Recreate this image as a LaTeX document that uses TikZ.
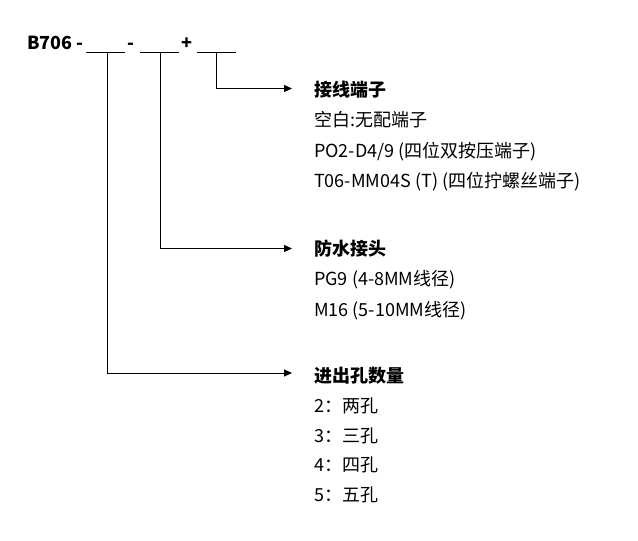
\documentclass[tikz,border=0pt]{standalone}
\usepackage{fontspec}
\setmainfont{Noto Sans CJK SC}
\usetikzlibrary{arrows.meta}
\begin{document}
\begin{tikzpicture}[x=1pt,y=-1pt,
  txt/.style={anchor=base west,inner sep=0pt,font=\fontsize{18}{21}\selectfont},
  ttl/.style={txt,font=\fontsize{18}{21}\selectfont\bfseries},
  blank/.style={line width=0.9pt},
  arr/.style={line width=0.9pt,-{Triangle[length=8pt,width=7pt]}}]
\useasboundingbox (0,0) rectangle (638,541);
% header
\node[ttl] (hd) at (27,49) {B706 -};
\node[ttl] (m1) at (127,49) {-};
\node[ttl] (p1) at (181,49) {+};
\coordinate (b1l) at (86,52); \coordinate (b1r) at (125,52);
\coordinate (b2l) at (140,52); \coordinate (b2r) at (179,52);
\coordinate (b3l) at (197,52); \coordinate (b3r) at (236,52);
\draw[blank] (b1l) -- (b1r);
\draw[blank] (b2l) -- (b2r);
\draw[blank] (b3l) -- (b3r);
\coordinate (v1) at (107,52);
\coordinate (v2) at (160,52);
\coordinate (v3) at (216,52);
\coordinate (e3) at (292,88.5);
\coordinate (e2) at (292,248.5);
\coordinate (e1) at (292,373);
\draw[arr] (v3) |- (e3);
\draw[arr] (v2) |- (e2);
\draw[arr] (v1) |- (e1);
% group 1
\node[ttl] (g1) at (314,96) {接线端子};
\node[txt] (g1a) at (314,126) {空白:无配端子};
\node[txt] (g1b) at (314,157) {PO2-D4/9 (四位双按压端子)};
\node[txt] (g1c) at (314,187) {T06-MM04S (T) (四位拧螺丝端子)};
% group 2
\node[ttl] (g2) at (314,255) {防水接头};
\node[txt] (g2a) at (314,285) {PG9 (4-8MM线径)};
\node[txt] (g2b) at (314,316) {M16 (5-10MM线径)};
% group 3
\node[ttl] (g3) at (314,382) {进出孔数量};
\node[txt] (g3a) at (314,412) {2：两孔};
\node[txt] (g3b) at (314,442) {3：三孔};
\node[txt] (g3c) at (314,471) {4：四孔};
\node[txt] (g3d) at (314,501) {5：五孔};
\end{tikzpicture}
\end{document}
